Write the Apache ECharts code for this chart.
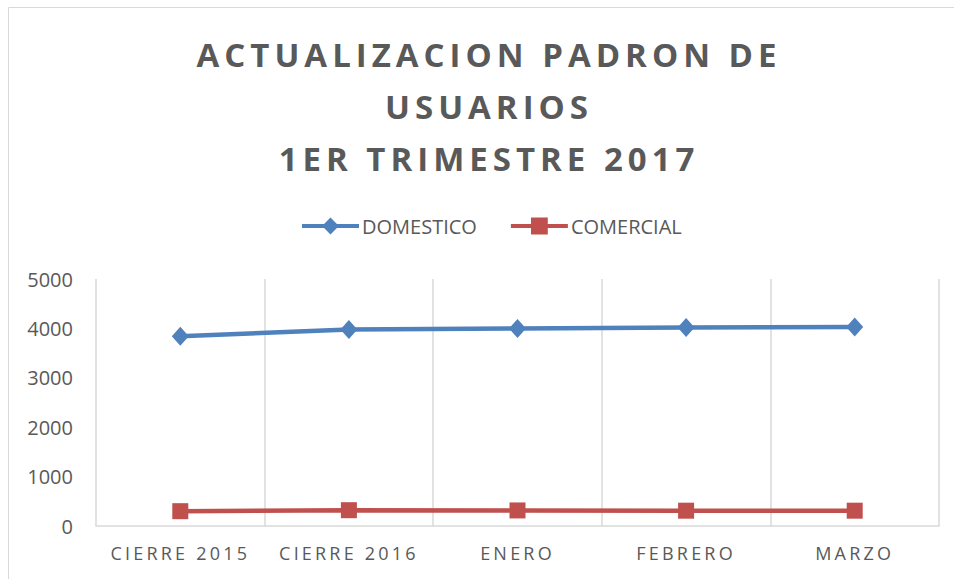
<!DOCTYPE html>
<html>
<head>
<meta charset="utf-8">
<script src="https://cdn.jsdelivr.net/npm/echarts@6/dist/echarts.min.js"></script>
<style>
  html, body { margin: 0; padding: 0; background: #fff; }
  #chart { width: 954px; height: 579px; }
  /* Excel-style letter spacing for the title and category labels */
  #chart text[style*="33px"] { letter-spacing: 5px; }
  #chart text[style*="18px"] { letter-spacing: 3.2px; }
</style>
</head>
<body>
<div id="chart"></div>
<script>
  // datos
  const categorias = ['CIERRE 2015', 'CIERRE 2016', 'ENERO', 'FEBRERO', 'MARZO'];
  const domestico = [3840, 3980, 4000, 4020, 4030];
  const comercial = [300, 320, 315, 310, 310];
  const titulo = 'ACTUALIZACION PADRON DE\nUSUARIOS\n1ER TRIMESTRE 2017';

  const gris = '#595959';
  const chart = echarts.init(document.getElementById('chart'), null, { renderer: 'svg' });

  const option = {
    backgroundColor: '#fff',
    animation: false,
    graphic: [
      {
        type: 'rect',
        shape: { x: 8.5, y: 7.5, width: 1000, height: 1000 },
        style: { fill: 'none', stroke: '#d9d9d9', lineWidth: 1 },
        silent: true
      }
    ],
    title: {
      text: titulo,
      left: 489,
      textAlign: 'center',
      top: 28,
      padding: 0,
      textStyle: {
        color: gris,
        fontFamily: 'Open Sans',
        fontWeight: 'bold',
        fontSize: 33,
        lineHeight: 52
      }
    },
    legend: {
      data: ['DOMESTICO', 'COMERCIAL'],
      left: 300,
      top: 216,
      padding: 0,
      itemWidth: 57,
      itemHeight: 21,
      itemGap: 32,
      lineStyle: { width: 4 },
      textStyle: { color: gris, fontFamily: 'Open Sans', fontSize: 20, padding: [0, 0, 0, -2] }
    },
    grid: {
      left: 96,
      right: 15,
      top: 279,
      bottom: 53,
      containLabel: false
    },
    xAxis: {
      type: 'category',
      data: categorias,
      boundaryGap: true,
      axisLine: { show: true, lineStyle: { color: '#d9d9d9', width: 1.5 } },
      axisTick: { show: false },
      axisLabel: {
        color: gris,
        fontFamily: 'Open Sans',
        fontSize: 18,
        margin: 18,
        interval: 0
      },
      splitLine: { show: true, lineStyle: { color: '#d9d9d9', width: 1.5 } }
    },
    yAxis: {
      type: 'value',
      min: 0,
      max: 5000,
      interval: 1000,
      axisLine: { show: false },
      axisTick: { show: false },
      splitLine: { show: false },
      axisLabel: {
        color: gris,
        fontFamily: 'Open Sans',
        fontSize: 20,
        margin: 23,
        formatter: function (v) { return String(v); }
      }
    },
    series: [
      {
        name: 'DOMESTICO',
        type: 'line',
        data: domestico,
        symbol: 'diamond',
        symbolSize: [17, 19],
        itemStyle: { color: '#4f81bd' },
        lineStyle: { color: '#4f81bd', width: 4.5 }
      },
      {
        name: 'COMERCIAL',
        type: 'line',
        data: comercial,
        symbol: 'rect',
        symbolSize: 16,
        itemStyle: { color: '#c0504d' },
        lineStyle: { color: '#c0504d', width: 4.5 }
      }
    ]
  };

  chart.setOption(option);
</script>
</body>
</html>
